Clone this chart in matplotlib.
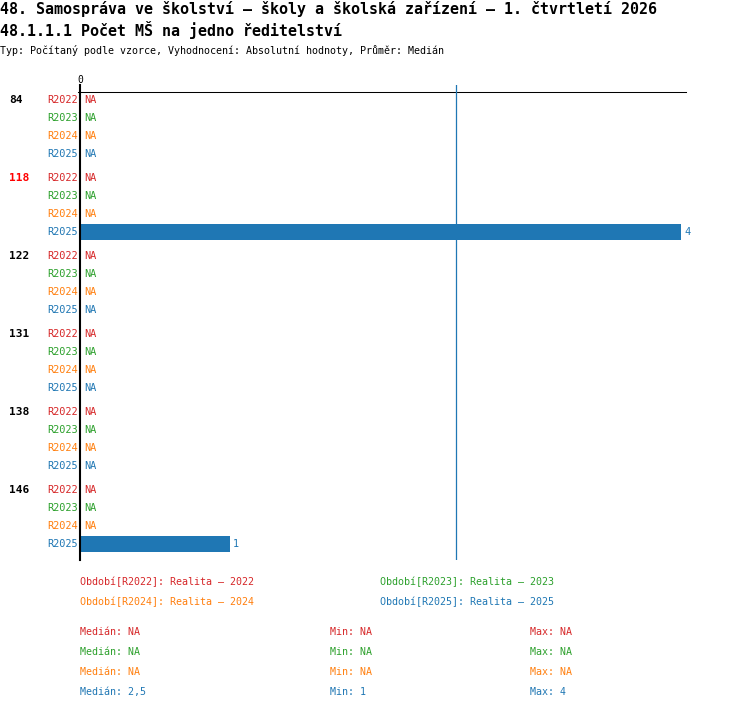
import matplotlib
matplotlib.use('Agg')
import matplotlib.pyplot as plt

W, H = 750, 710

# data
groups = ['84', '118', '122', '131', '138', '146']
highlight = '118'
series = ['R2022', 'R2023', 'R2024', 'R2025']
colors = ['#d62728', '#2ca02c', '#ff7f0e', '#1f77b4']
r2022 = [None, None, None, None, None, None]
r2023 = [None, None, None, None, None, None]
r2024 = [None, None, None, None, None, None]
r2025 = [None, 4, None, None, None, 1]
values = [r2022, r2023, r2024, r2025]
legend_labels = ['Období[R2022]: Realita – 2022', 'Období[R2023]: Realita – 2023',
                 'Období[R2024]: Realita – 2024', 'Období[R2025]: Realita – 2025']
medians = ['NA', 'NA', 'NA', '2,5']
mins = ['NA', 'NA', 'NA', '1']
maxs = ['NA', 'NA', 'NA', '4']
median_line = 2.5

title1 = '48. Samospráva ve školství – školy a školská zařízení – 1. čtvrtletí 2026'
title2 = '48.1.1.1 Počet MŠ na jedno ředitelství'
subtitle = 'Typ: Počítaný podle vzorce, Vyhodnocení: Absolutní hodnoty, Průměr: Medián'

MONO = 'DejaVu Sans Mono'


def fx(x):
    return x / W


def fy(y):
    return 1 - y / H


def ftext(x, y, s, **kw):
    kw.setdefault('family', MONO)
    kw.setdefault('fontsize', 7.4)
    kw.setdefault('va', 'center')
    fig.text(fx(x), fy(y), s, **kw)


fig = plt.figure(figsize=(W / 100, H / 100), dpi=100)

# axes in pixel layout: x 80..686, y 85..560
ax_l, ax_r, ax_t, ax_b = 80, 686, 85, 560
ax = fig.add_axes([fx(ax_l), fy(ax_b), (ax_r - ax_l) / W, (ax_b - ax_t) / H])
px_per_unit = (681 - 80) / 4.0
ax.set_xlim(0, (ax_r - ax_l) / px_per_unit)
ax.set_ylim(ax_b - ax_t, 0)
for s in ['top', 'right', 'bottom']:
    ax.spines[s].set_visible(False)
ax.spines['left'].set_linewidth(1.5)
ax.set_xticks([])
ax.set_yticks([])

# top line
ax.plot([-2 / px_per_unit, (ax_r - ax_l) / px_per_unit], [7, 7], color='black', lw=0.75,
        clip_on=False)
ax.axvline(median_line, color='#1f77b4', lw=0.9)

for g, grp in enumerate(groups):
    for si, name in enumerate(series):
        yy = 15 + g * 78 + si * 18
        col = colors[si]
        ftext(78, ax_t + yy, name, color=col, ha='right')
        v = values[si][g]
        if v is None:
            ftext(84, ax_t + yy, 'NA', color=col, ha='left')
        else:
            ax.barh(yy, v, height=16, color=col, left=0)
            ftext(ax_l + v * px_per_unit + 3, ax_t + yy, str(v), color=col, ha='left')
    ftext(9, ax_t + 15 + g * 78, grp, ha='left', fontweight='bold', fontsize=8,
          color='red' if grp == highlight else 'black')

ftext(80, 80, '0', ha='center', fontsize=7)

# titles
ftext(0, 9, title1, fontsize=10.8, fontweight='bold', ha='left')
ftext(0, 30, title2, fontsize=10.8, fontweight='bold', ha='left')
ftext(0, 50, subtitle, fontsize=7.2, ha='left')

# legend
leg_pos = [(80, 582), (380, 582), (80, 602), (380, 602)]
for (x, y), lab, col in zip(leg_pos, legend_labels, colors):
    ftext(x, y, lab, color=col, ha='left', fontsize=7.2)

for i, col in enumerate(colors):
    y = 632 + i * 20
    ftext(80, y, 'Medián: ' + medians[i], color=col, ha='left', fontsize=7.2)
    ftext(330, y, 'Min: ' + mins[i], color=col, ha='left', fontsize=7.2)
    ftext(530, y, 'Max: ' + maxs[i], color=col, ha='left', fontsize=7.2)

fig.savefig('out.png', dpi=100)
